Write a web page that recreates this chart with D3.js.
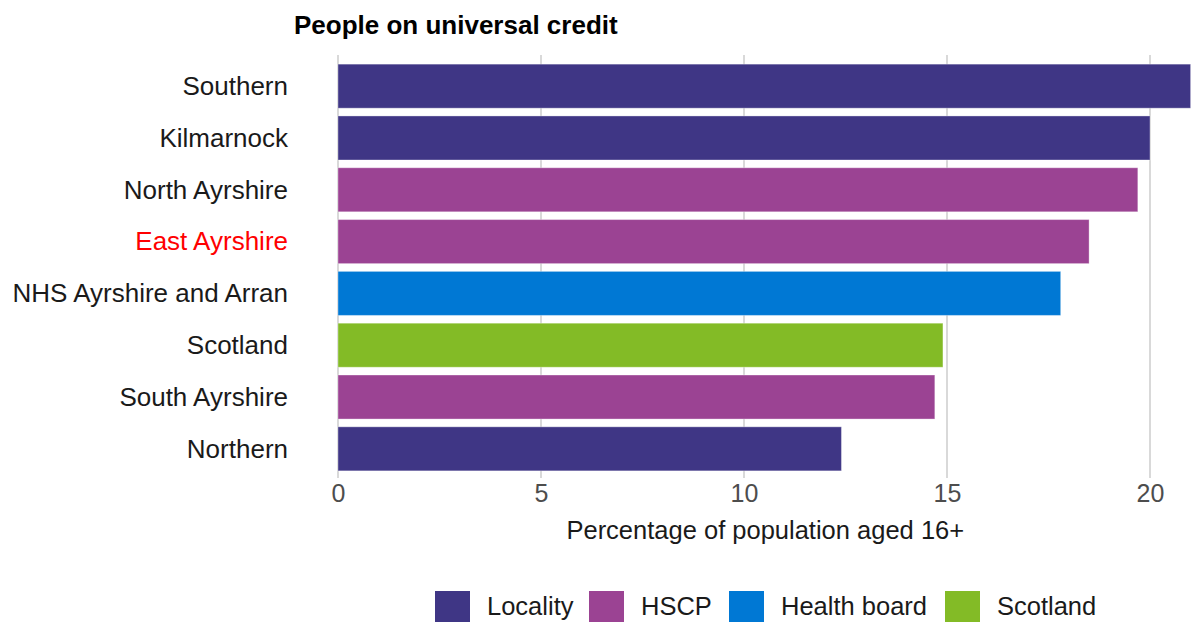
<!DOCTYPE html>
<html>
<head>
<meta charset="utf-8">
<script src="https://cdn.jsdelivr.net/npm/d3@7"></script>
<style>
  body { margin: 0; background: #fff; }
  svg { display: block; font-family: "Liberation Sans", Arial, sans-serif; }
</style>
</head>
<body>
<div id="chart"></div>
<script>
// Data
var areas = ["Southern", "Kilmarnock", "North Ayrshire", "East Ayrshire",
             "NHS Ayrshire and Arran", "Scotland", "South Ayrshire", "Northern"];
var values = [21.0, 20.0, 19.7, 18.5, 17.8, 14.9, 14.7, 12.4];
var areaTypes = ["Locality", "Locality", "HSCP", "HSCP",
                 "Health board", "Scotland", "HSCP", "Locality"];
var legendTypes = ["Locality", "HSCP", "Health board", "Scotland"];
var typeColours = ["#3F3685", "#9B4393", "#0078D4", "#83BB26"];
var xTicks = [0, 5, 10, 15, 20];
var highlightArea = "East Ayrshire";

var width = 1192, height = 622;
var margin = { top: 64, right: 1.4, bottom: 151, left: 338 };

var svg = d3.select("#chart").append("svg")
    .attr("width", width)
    .attr("height", height);

// Scales
var x = d3.scaleLinear()
    .domain([0, 21.0])
    .range([margin.left, width - margin.right]);

var y = d3.scaleBand()
    .domain(areas)
    .range([margin.top - 4, height - margin.bottom + 4])
    .paddingInner(0.15)
    .paddingOuter(0.08);

var colour = d3.scaleOrdinal().domain(legendTypes).range(typeColours);

// Gridlines behind the bars
svg.append("g")
    .selectAll("line")
    .data(xTicks)
    .join("line")
    .attr("x1", d => x(d)).attr("x2", d => x(d))
    .attr("y1", 55).attr("y2", 478)
    .attr("stroke", "#cccccc")
    .attr("stroke-width", 1.5);

// Bars
svg.append("g")
    .selectAll("rect")
    .data(areas)
    .join("rect")
    .attr("x", x(0))
    .attr("y", d => y(d))
    .attr("width", (d, i) => x(values[i]) - x(0))
    .attr("height", y.bandwidth())
    .attr("fill", (d, i) => colour(areaTypes[i]))
    .attr("stroke", "#ffffff")
    .attr("stroke-opacity", 0.35)
    .attr("stroke-width", 1);

// Y axis labels
var yAxis = svg.append("g")
    .attr("transform", `translate(${margin.left - 50}, 0)`)
    .call(d3.axisLeft(y).tickSize(0).tickPadding(0));
yAxis.select(".domain").remove();
yAxis.selectAll("text")
    .attr("font-size", 26)
    .attr("font-family", "Liberation Sans, Arial, sans-serif")
    .attr("dy", "0.34em")
    .attr("fill", d => d == highlightArea ? "#ff0000" : "#1a1a1a");

// X axis labels
var xAxis = svg.append("g")
    .attr("transform", "translate(0, 478)")
    .call(d3.axisBottom(x).tickValues(xTicks).tickSize(0).tickPadding(6));
xAxis.select(".domain").remove();
xAxis.selectAll("text")
    .attr("font-size", 25)
    .attr("font-family", "Liberation Sans, Arial, sans-serif")
    .attr("fill", "#4d4d4d");

// Axis title
svg.append("text")
    .attr("x", (x(0) + x(21.0)) / 2 + 1)
    .attr("y", 539)
    .attr("text-anchor", "middle")
    .attr("font-size", 25.5)
    .attr("fill", "#1a1a1a")
    .text("Percentage of population aged 16+");

// Chart title
svg.append("text")
    .attr("x", 294)
    .attr("y", 34)
    .attr("font-size", 26)
    .attr("font-weight", "bold")
    .attr("fill", "#000")
    .text("People on universal credit");

// Legend
var legendX = [435, 589, 729, 945];
var legend = svg.append("g")
    .selectAll("g")
    .data(legendTypes)
    .join("g")
    .attr("transform", (d, i) => `translate(${legendX[i]}, 591)`);
legend.append("rect")
    .attr("width", 35).attr("height", 35)
    .attr("fill", d => colour(d));
legend.append("text")
    .attr("x", 52)
    .attr("y", 24)
    .attr("font-size", 25.5)
    .attr("fill", "#1a1a1a")
    .text(d => d);
</script>
</body>
</html>
